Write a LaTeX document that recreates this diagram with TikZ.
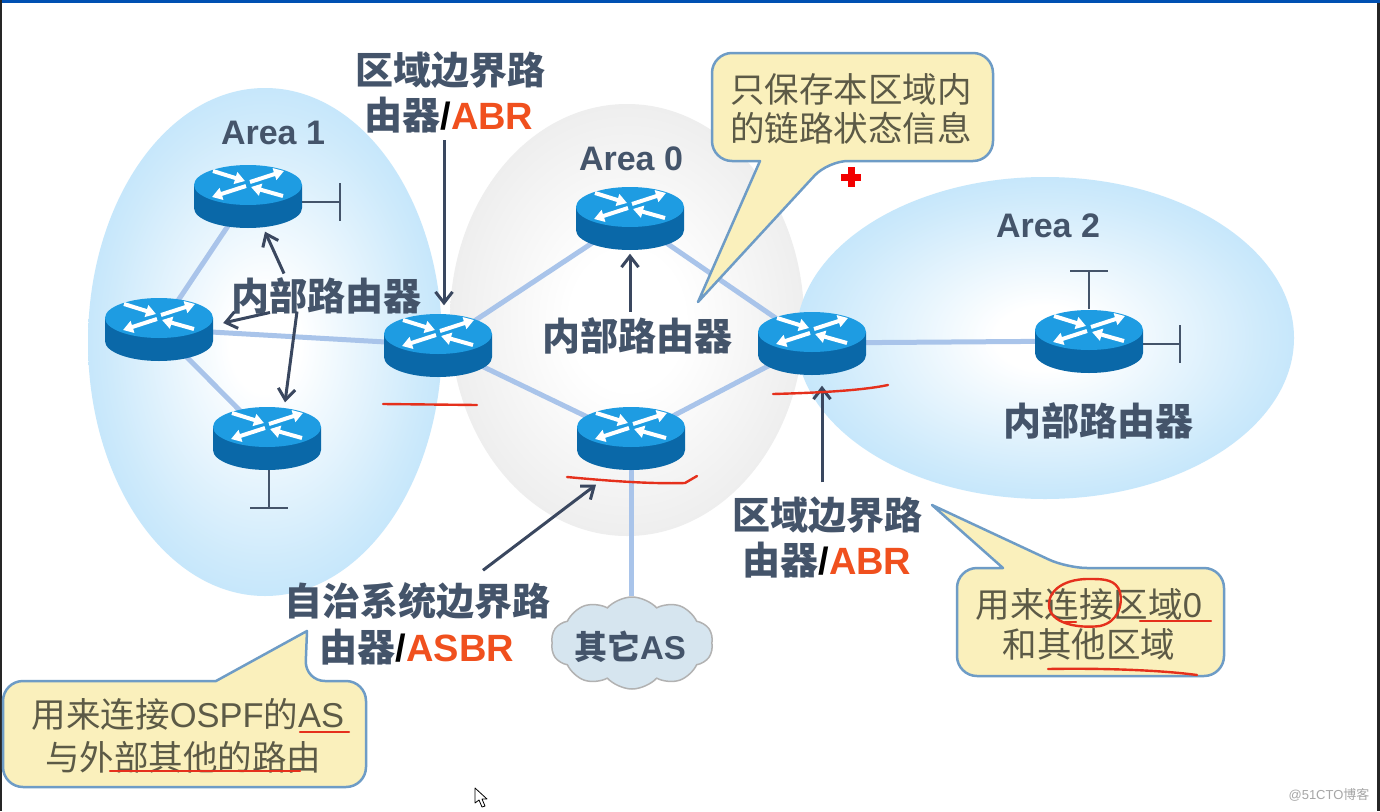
\documentclass[tikz,border=0pt]{standalone}
\usepackage{fontspec}
\setmainfont{Liberation Sans}
\newfontfamily\cjk{Noto Sans CJK SC}
\usetikzlibrary{arrows.meta,shapes.symbols,calc}
\definecolor{lblue}{HTML}{A6D9F8}
\definecolor{lgray}{HTML}{EAEAEA}
\definecolor{dk}{HTML}{44546A}
\definecolor{arr}{HTML}{3A475F}
\definecolor{org}{HTML}{F0501E}
\definecolor{rtop}{HTML}{1E9CE2}
\definecolor{rbody}{HTML}{0A68A8}
\definecolor{linkc}{HTML}{A9C4EA}
\definecolor{inkred}{HTML}{E5301C}
\definecolor{cfill}{HTML}{FAF0BC}
\definecolor{cline}{HTML}{6E9CC6}
\definecolor{ctext}{HTML}{5C5A46}
\definecolor{cloudc}{HTML}{D6E5EF}
\pgfdeclareradialshading{areablue}{\pgfpointorigin}{color(0bp)=(white); color(5bp)=(white); color(22bp)=(lblue!55!white); color(36bp)=(lblue!95!white); color(50bp)=(lblue)}
\pgfdeclareradialshading{areagray}{\pgfpointorigin}{color(0bp)=(white); color(8bp)=(white); color(28bp)=(lgray!95!white); color(50bp)=(lgray)}
\tikzset{
  x=1pt,y=-1pt,
  rtrbox/.style={inner sep=0pt,minimum width=108pt,minimum height=63pt},
  link/.style={draw=linkc,line width=5pt},
  arw/.style={draw=arr,line width=3pt,-{Straight Barb[length=11pt,width=17pt,line width=3pt]}},
  stub/.style={draw=dk,line width=2pt},
  ink/.style={draw=inkred,line width=2.4pt,line cap=round},
  lab/.style={text=dk,font=\bfseries\fontsize{38}{38}\selectfont,inner sep=0pt},
  arealab/.style={text=dk,font=\bfseries\fontsize{34}{34}\selectfont,inner sep=0pt},
  call/.style={draw=cline,fill=cfill,line width=2.5pt,line join=round},
  calltext/.style={text=ctext,font=\fontsize{34.5}{34.5}\selectfont,inner sep=0pt},
  rarrow/.style={draw=white,line width=4pt,-{Triangle[length=10pt,width=12pt]}},
}
\newcommand\zh[1]{{\cjk #1}}
\newcommand\drawrtr[1]{%
  \fill[rbody] ($(#1)+(-54,-11)$) -- ($(#1)+(-54,12)$) arc[x radius=54,y radius=-20,start angle=180,end angle=360] -- ($(#1)+(54,-11)$) -- cycle;
  \fill[rtop] ($(#1)+(0,-11)$) ellipse[x radius=54,y radius=20];
  \draw[rarrow] ($(#1)+(-35,-25)$) -- ($(#1)+(-3,-15)$);
  \draw[rarrow] ($(#1)+(2,-14)$) -- ($(#1)+(36,-25)$);
  \draw[rarrow] ($(#1)+(-2,-10)$) -- ($(#1)+(-36,1)$);
  \draw[rarrow] ($(#1)+(35,0)$) -- ($(#1)+(3,-9)$);
}
\begin{document}
\begin{tikzpicture}
\useasboundingbox (0,0) rectangle (1380,811);
\fill[white] (0,0) rectangle (1380,811);
% frame
\fill[blue!55!cyan!70!black] (0,0) rectangle (1380,3);
\fill[black!85] (0,0) rectangle (2,811);
\fill[black!85] (1377,3) rectangle (1380,811);
% areas
\path[shading=areagray] (627,320) ellipse[x radius=177,y radius=216];
\path[shading=areablue] (265,342) ellipse[x radius=177,y radius=254];
\path[shading=areablue] (1045,338) ellipse[x radius=249,y radius=161];
% routers placeholders
\node[rtrbox] (r1) at (248,196) {};
\node[rtrbox] (r2) at (159,329) {};
\node[rtrbox] (r3) at (267,438) {};
\node[rtrbox] (abra) at (438,345) {};
\node[rtrbox] (top0) at (630,218) {};
\node[rtrbox] (asbr) at (631,438) {};
\node[rtrbox] (abrb) at (812,343) {};
\node[rtrbox] (r4) at (1089,341) {};
% cloud
\node[cloud,cloud puffs=10,cloud puff arc=95,cloud ignores aspect,minimum width=162pt,minimum height=92pt,inner sep=0pt,draw=black!30,fill=cloudc,line width=1.5pt] (other) at (632,643) {};
% links
\draw[link] (r1.center) -- (r2.center);
\draw[link] (r2.center) -- (r3.center);
\draw[link] (r2.center) -- (abra.center);
\draw[link] (abra.center) -- (top0.center);
\draw[link] (abra.center) -- (asbr.center);
\draw[link] (top0.center) -- (abrb.center);
\draw[link] (asbr.center) -- (abrb.center);
\draw[link] (abrb.center) -- (r4.center);
\draw[link] (asbr.center) -- (asbr.center |- other.north);
% stubs
\coordinate (s1) at (340,202);
\coordinate (s3) at (269,508);
\coordinate (s4a) at (1089,271);
\coordinate (s4b) at (1180,344);
\draw[stub] ([yshift=-6]r1.east) -- (s1);
\draw[stub] ($(s1)+(0,-19)$) -- ($(s1)+(0,19)$);
\draw[stub] ([xshift=2]r3.south) -- (s3);
\draw[stub] ($(s3)+(-19,0)$) -- ($(s3)+(19,0)$);
\draw[stub] (r4.north) -- (s4a);
\draw[stub] ($(s4a)+(-19,0)$) -- ($(s4a)+(19,0)$);
\draw[stub] ([yshift=-3]r4.east) -- (s4b);
\draw[stub] ($(s4b)+(0,-19)$) -- ($(s4b)+(0,19)$);
% router drawings
\drawrtr{r1}\drawrtr{r2}\drawrtr{r3}\drawrtr{abra}\drawrtr{top0}\drawrtr{asbr}\drawrtr{abrb}\drawrtr{r4}
% labels
\node[arealab] (a1) at (273,133) {Area 1};
\node[arealab] (a0) at (631,159) {Area 0};
\node[arealab] (a2) at (1048,226) {Area 2};
\node[lab] (t1a) at (450,70) {\zh{区域边界路}};
\node[lab] (t1b) at (449,115) {\zh{由器}\textcolor{black}{/}\textcolor{org}{ABR}};
\node[lab] (int1) at (326,296) {\zh{内部路由器}};
\node[lab] (int0) at (637,336) {\zh{内部路由器}};
\node[lab] (int2) at (1098,421) {\zh{内部路由器}};
\node[lab] (t2a) at (827,515) {\zh{区域边界路}};
\node[lab] (t2b) at (827,560) {\zh{由器}\textcolor{black}{/}\textcolor{org}{ABR}};
\node[lab] (t3a) at (417,601) {\zh{自治系统边界路}};
\node[lab] (t3b) at (417,647) {\zh{由器}\textcolor{black}{/}\textcolor{org}{ASBR}};
\node[text=dk,font=\bfseries\fontsize{33}{33}\selectfont,inner sep=0pt] (cl) at (630,647) {\zh{其它}AS};
% arrows
\draw[arw] ([xshift=-5,yshift=-7]t1b.south) -- ([xshift=6,yshift=8]abra.north);
\draw[arw] ([xshift=-42,yshift=4]int1.north) -- ([xshift=17,yshift=-4]r1.south);
\draw[arw] ([xshift=-56,yshift=2]int1.south) -- ([xshift=10,yshift=6]r2.east);
\draw[arw] ([xshift=-29,yshift=3]int1.south) -- ([xshift=18,yshift=4]r3.north);
\draw[arw] ([xshift=-7,yshift=6]int0.north) -- ([yshift=-4]top0.south);
\draw[arw] ([xshift=-5,yshift=14]t2a.north) -- ([xshift=10,yshift=-11]abrb.south);
\draw[arw] ([xshift=66,yshift=12]t3a.north) -- ([xshift=-35,yshift=-15]asbr.south);
% callouts
\draw[call] (760,161) [rounded corners=20pt] -- (712,161) -- (712,53) -- (993,53) -- (993,161) -- (828,161) [sharp corners] -- (698,302) -- cycle;
\node[calltext] (c1a) at (851,89) {\zh{只保存本区域内}};
\node[calltext] (c1b) at (851,128) {\zh{的链路状态信息}};
\draw[call] (1003,568) [rounded corners=20pt] -- (957,568) -- (957,676) -- (1224,676) -- (1224,568) -- (1067,568) [sharp corners] -- (932,505) -- cycle;
\node[calltext] (c2a) at (1089,604) {\zh{用来连接区域}0};
\node[calltext] (c2b) at (1089,644) {\zh{和其他区域}};
\draw[call] (216,681) [rounded corners=20pt] -- (3,681) -- (3,787) -- (366,787) -- (366,681) -- (305,681) [sharp corners] -- (307,631) -- cycle;
\node[calltext] (c3a) at (188,714) {\zh{用来连接}OSPF\zh{的}AS};
\node[calltext] (c3b) at (183,757) {\zh{与外部其他的路由}};
% ink
\draw[ink] (383,404) -- (477,405);
\draw[ink] (567,477) .. controls (610,481) and (650,484) .. (685,483) -- (697,476);
\draw[ink] (773,394) .. controls (810,393) and (860,391) .. (888,385);
\draw[ink] (300,732) -- (349,732);
\draw[ink] (110,771) -- (300,771);
\draw[ink] (1140,621) -- (1211,621);
\draw[ink] (1048,669) .. controls (1100,668) and (1160,670) .. (1197,675);
\draw[ink] (1065,622) -- (1076,622);
\draw[ink] (1092,579) .. controls (1065,578) and (1048,590) .. (1049,606) .. controls (1050,622) and (1075,629) .. (1100,626) .. controls (1118,622) and (1123,605) .. (1120,592) .. controls (1116,580) and (1105,579) .. (1092,579);
% plus
\draw[red!95!black,line width=7pt,line cap=butt] (851,167) -- (851,187) (841,177) -- (861,177);
% cursor
\draw[black,fill=white,line width=.8pt,line join=round] (475,788) -- (475,803) -- (479,800) -- (482,807) -- (485,806) -- (482,799) -- (487,799) -- cycle;
% watermark
\node[text=gray!70,font=\fontsize{13}{13}\selectfont,inner sep=0pt] (wm) at (1329,795) {@51CTO\zh{博客}};
\end{tikzpicture}
\end{document}
